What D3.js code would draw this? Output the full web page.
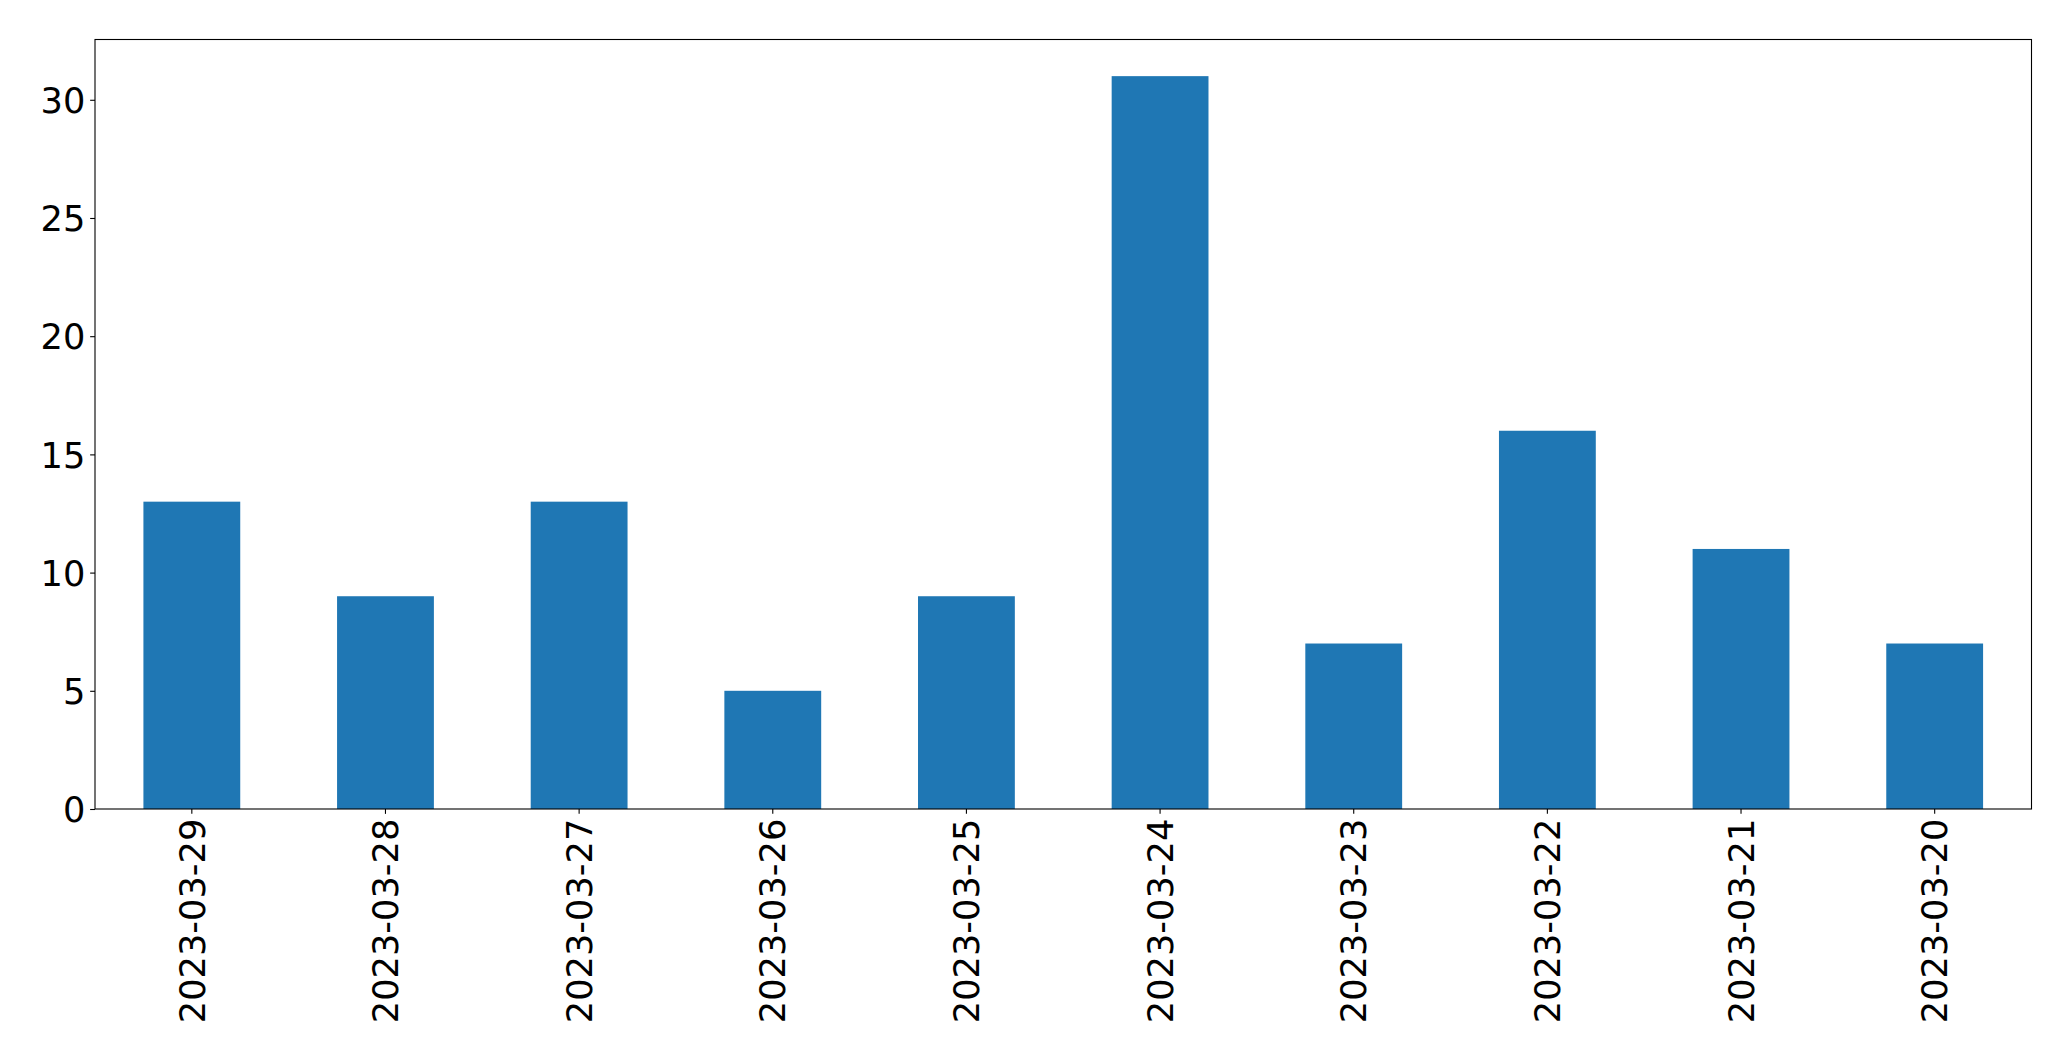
<!DOCTYPE html>
<html>
<head>
<meta charset="utf-8">
<script src="https://cdn.jsdelivr.net/npm/d3@7"></script>
<style>
  html, body { margin: 0; padding: 0; background: #fff; }
  svg { display: block; }
  text { font-family: "DejaVu Sans", sans-serif; fill: #000; }
</style>
</head>
<body>
<svg id="chart" width="2071" height="1061"></svg>
<script>
const categories = ["2023-03-29","2023-03-28","2023-03-27","2023-03-26","2023-03-25","2023-03-24","2023-03-23","2023-03-22","2023-03-21","2023-03-20"];
const values = [13, 9, 13, 5, 9, 31, 7, 16, 11, 7];
const yTicks = [0, 5, 10, 15, 20, 25, 30];

(function () {
const svg = d3.select("#chart");
const mLeft = 95, mRight = 2031.5, mTop = 39.5, mBottom = 809;
const fontSize = 35.2;
const tickLen = 4.86, tickPad = 4.86;

const x = d3.scaleBand().domain(categories).range([mLeft, mRight]).paddingInner(0.5).paddingOuter(0.25);
const yMax = d3.max(values) * 1.05;
const y = d3.scaleLinear().domain([0, yMax]).range([mBottom, mTop]);

// bars
svg.append("g").selectAll("rect").data(values).join("rect")
  .attr("x", (d, i) => x(categories[i]))
  .attr("width", x.bandwidth())
  .attr("y", d => y(d))
  .attr("height", d => y(0) - y(d))
  .attr("fill", "#1f77b4");

// frame
svg.append("rect")
  .attr("x", mLeft).attr("y", mTop)
  .attr("width", mRight - mLeft).attr("height", mBottom - mTop)
  .attr("fill", "none").attr("stroke", "#000").attr("stroke-width", 1.1);

// y axis
const yAxis = d3.axisLeft(y).tickValues(yTicks).tickSize(tickLen).tickPadding(tickPad).tickFormat(d3.format("d"));
const gy = svg.append("g").attr("transform", `translate(${mLeft},0)`).call(yAxis);
gy.select(".domain").remove();
gy.selectAll(".tick line").attr("stroke", "#000").attr("stroke-width", 1.1);
gy.selectAll(".tick text")
  .attr("font-size", fontSize)
  .attr("font-family", "DejaVu Sans, sans-serif")
  .attr("fill", "#000")
  .attr("dy", "0.36em");

// x axis
const xAxis = d3.axisBottom(x).tickSize(tickLen).tickPadding(tickPad);
const gx = svg.append("g").attr("transform", `translate(0,${mBottom})`).call(xAxis);
gx.select(".domain").remove();
gx.selectAll(".tick line").attr("stroke", "#000").attr("stroke-width", 1.1);
gx.selectAll(".tick text")
  .attr("font-size", fontSize)
  .attr("font-family", "DejaVu Sans, sans-serif")
  .attr("fill", "#000")
  .attr("y", 0).attr("dy", "0.36em")
  .attr("text-anchor", "end")
  .attr("transform", `translate(0,${tickLen + tickPad}) rotate(-90)`);
})();
</script>
</body>
</html>
